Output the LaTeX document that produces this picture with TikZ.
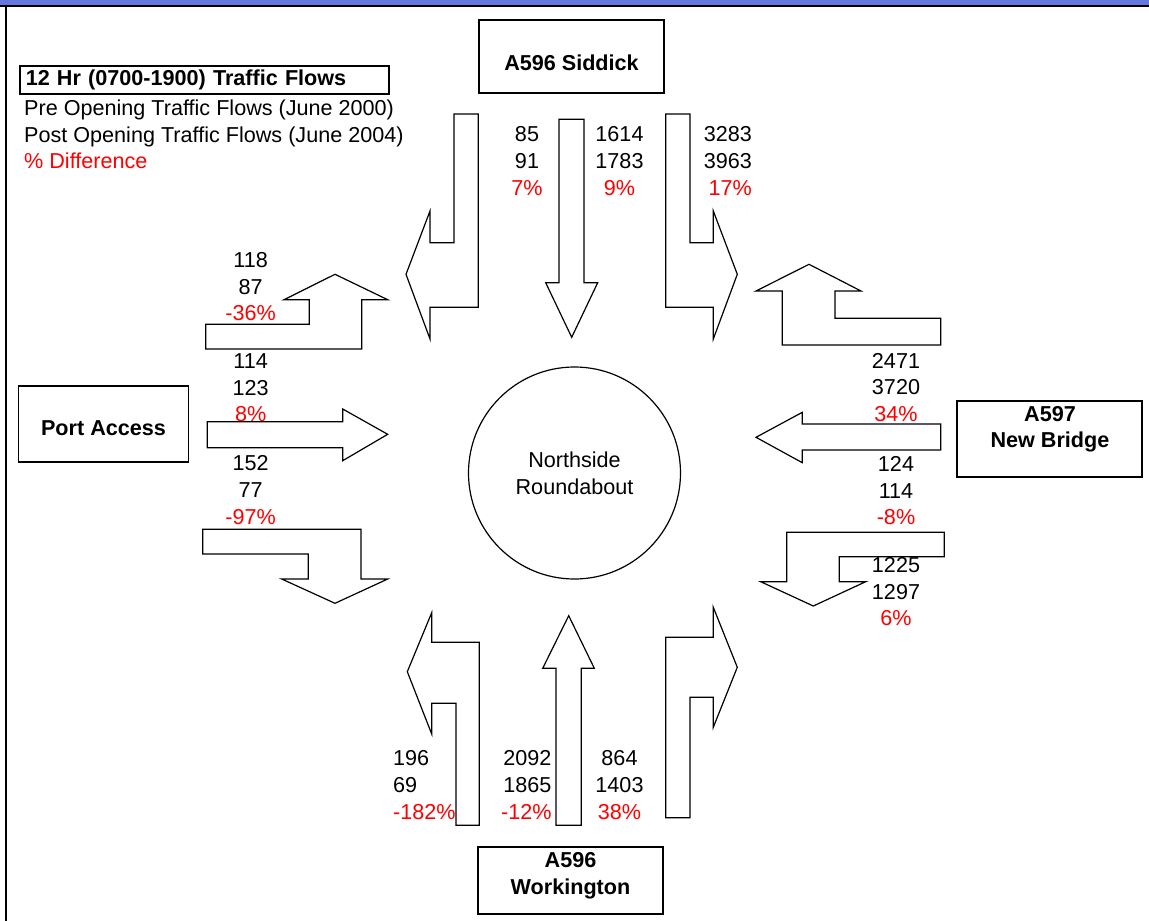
\documentclass[tikz,border=0pt]{standalone}
\usepackage{fontspec}
\setmainfont{Liberation Sans}
\usepackage{xcolor}
\usepackage{tikz}
\definecolor{bandblue}{RGB}{102,119,221}
\newcommand{\pctdiff}[1]{\textcolor{red}{#1}}

\begin{document}
\begin{tikzpicture}[x=1pt, y=-1pt,
                every node/.style={font=\fontsize{21.6}{26.6}\selectfont, inner sep=0pt},
                roadbox/.style={draw, line width=1.5pt, fill=white},
                roadlabel/.style={font=\fontsize{21.6}{26.6}\selectfont\bfseries, align=center},
                flow/.style={align=center},
                turn/.style={draw, line width=1.2pt, fill=white, line join=miter}
            ]
                \useasboundingbox (0,0) rectangle (1149,921);

                % frame: blue band on top, black rule on top and left
                \fill[bandblue] (0,0) rectangle (1149,5);
                \draw[line width=2pt] (0,6) -- (1149,6);
                \draw[line width=2pt] (6,6) -- (6,921);

                % legend
                \node[draw, line width=1.5pt, minimum width=369, minimum height=28, anchor=west, text width=357, align=left, inner xsep=6pt, font=\fontsize{21.6}{26.6}\selectfont\bfseries] (legendtitle) at (19,80) {12 Hr (0700-1900) Traffic Flows};
                \node[anchor=west, align=left] (legendlines) at (24,134.5) {Pre Opening Traffic Flows (June 2000)\\Post Opening Traffic Flows (June 2004)\\\pctdiff{\% Difference}};

                % approach roads
                \node[roadbox, minimum width=185, minimum height=73] (siddick) at (571.5,56.5) {};
                \node[roadlabel] (siddicklbl) at (571.5,62.7) {A596 Siddick};
                \node[roadbox, minimum width=170, minimum height=76] (port) at (103.5,424) {};
                \node[roadlabel] (portlbl) at (103.5,428) {Port Access};
                \node[roadbox, minimum width=185, minimum height=76] (bridge) at (1049.5,439) {};
                \node[roadlabel] (bridgelbl) at (1050,429.2) {A597\\New Bridge};
                \node[roadbox, minimum width=185, minimum height=67] (workington) at (570.5,880.5) {};
                \node[roadlabel] (workingtonlbl) at (570.5,875.5) {A596\\Workington};

                % roundabout
                \node[draw, circle, line width=1.2pt, minimum size=212, align=center] (roundabout) at (574.5,473) {Northside\\Roundabout};

                % flows: pre / post / % difference
                \node[flow] (sidleft) at (527,161) {85\\91\\\pctdiff{7\%}};
                \node[flow] (sidahead) at (619.5,161) {1614\\1783\\\pctdiff{9\%}};
                \node[flow, align=right, anchor=east] (sidright) at (752,161) {3283\\3963\\\pctdiff{17\%}};
                \node[flow] (portleft) at (250.7,286.7) {118\\87\\\pctdiff{-36\%}};
                \node[flow] (portahead) at (250.7,387.7) {114\\123\\\pctdiff{8\%}};
                \node[flow] (portright) at (250.7,490) {152\\77\\\pctdiff{-97\%}};
                \node[flow] (bridgeright) at (896,387.3) {2471\\3720\\\pctdiff{34\%}};
                \node[flow] (bridgeahead) at (896,490.7) {124\\114\\\pctdiff{-8\%}};
                \node[flow] (bridgeleft) at (896,591.7) {1225\\1297\\\pctdiff{6\%}};
                \node[flow, align=left, anchor=west] (workleft) at (393,785) {196\\69\\\pctdiff{-182\%}};
                \node[flow, align=right, anchor=east] (workahead) at (551.7,785) {2092\\1865\\\pctdiff{-12\%}};
                \node[flow] (workright) at (619.5,785) {864\\1403\\\pctdiff{38\%}};

                % turning arrows from Siddick
                \draw[turn] (454,114) -- (478.3,114) -- (478.3,307.3) -- (430,307.3) -- (430,339) -- (406,274.3) -- (430,211) -- (430,242.7) -- (454,242.7) -- cycle;
                \draw[turn] (559,119.3) -- (584,119.3) -- (584,282.7) -- (597.7,282.7) -- (571.7,337.3) -- (545.7,282.7) -- (559,282.7) -- cycle;
                \draw[turn] (665.7,114) -- (690,114) -- (690,242.7) -- (713.3,242.7) -- (713.3,211) -- (737.3,274.3) -- (713.3,339) -- (713.3,307.3) -- (665.7,307.3) -- cycle;

                % turning arrows from Workington
                \draw[turn] (456,825.3) -- (456,703.3) -- (431.7,703.3) -- (431.7,734) -- (407.3,671.7) -- (431.7,612.7) -- (431.7,642.3) -- (479.3,642.3) -- (479.3,825.3) -- cycle;
                \draw[turn] (556,825.3) -- (556,668.3) -- (542.7,668.3) -- (568.7,615.7) -- (594.3,668.3) -- (581.3,668.3) -- (581.3,825.3) -- cycle;
                \draw[turn] (665.7,817.7) -- (665.7,637.3) -- (713.3,637.3) -- (713.3,607.3) -- (737.3,667.3) -- (713.3,727.3) -- (713.3,697.3) -- (690,697.3) -- (690,817.7) -- cycle;

                % turning arrows from Port Access
                \draw[turn] (205.7,349) -- (361.7,349) -- (361.7,299.7) -- (387.7,299.7) -- (335,274.3) -- (284,299.7) -- (309.3,299.7) -- (309.3,324.3) -- (205.7,324.3) -- cycle;
                \draw[turn] (207.3,421.7) -- (342.7,421.7) -- (342.7,409) -- (387.7,434.3) -- (342.7,460.7) -- (342.7,447.7) -- (207.3,447.7) -- cycle;
                \draw[turn] (202.7,529.3) -- (361,529.3) -- (361,579) -- (387.7,579) -- (335,603.3) -- (281.7,579) -- (308.3,579) -- (308.3,554) -- (202.7,554) -- cycle;

                % turning arrows from New Bridge
                \draw[turn] (940.7,318.3) -- (940.7,345) -- (782.3,345) -- (782.3,291) -- (756,291) -- (809,264.3) -- (861,291) -- (835,291) -- (835,318.3) -- cycle;
                \draw[turn] (940.7,424) -- (940.7,450) -- (802.3,450) -- (802.3,462.7) -- (756,437.3) -- (802.3,412.3) -- (802.3,424) -- cycle;
                \draw[turn] (786.7,532.3) -- (944.3,532.3) -- (944.3,556.7) -- (839.3,556.7) -- (839.3,581.7) -- (865.7,581.7) -- (813.3,606) -- (760.7,581.7) -- (786.7,581.7) -- cycle;

            \end{tikzpicture}
\end{document}
